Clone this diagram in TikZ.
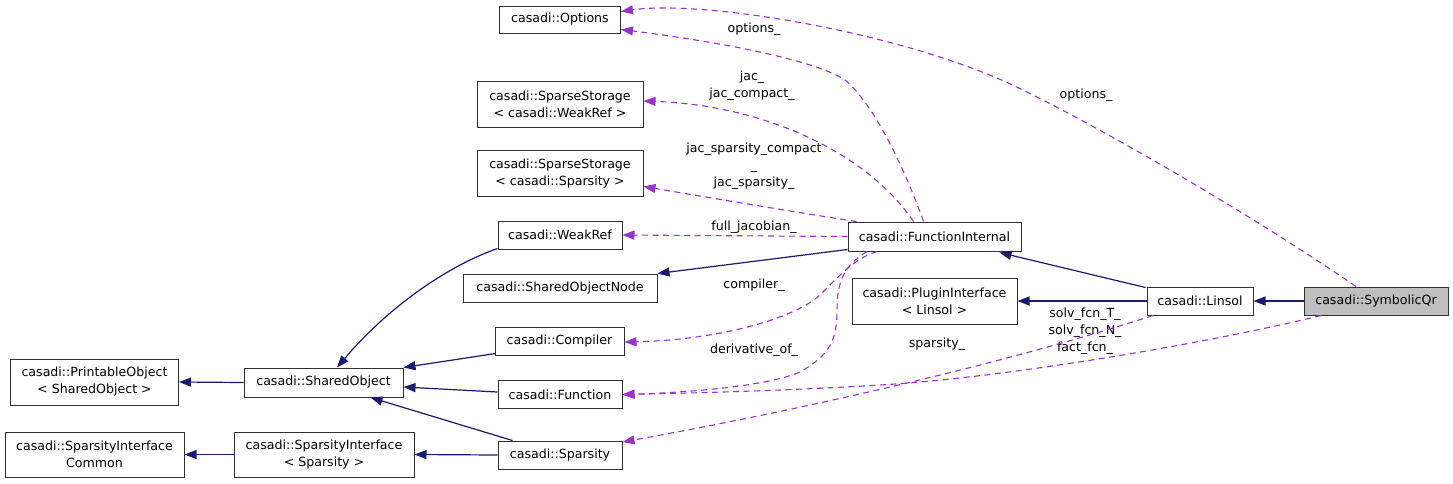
\documentclass[tikz,border=0pt]{standalone}
\usepackage{fontspec}
\setmainfont{DejaVu Sans}
\usetikzlibrary{arrows.meta,calc}
\definecolor{inh}{HTML}{191970}
\definecolor{use}{HTML}{9A32CD}
\definecolor{boxline}{HTML}{303030}
\begin{document}
\begin{tikzpicture}[x=1pt,y=-1pt,
  cls/.style={draw=boxline,line width=1pt,fill=white,inner sep=0pt,align=center,font=\fontsize{12.6}{17}\selectfont},
  lbl/.style={inner sep=0pt,align=center,font=\fontsize{12.6}{17}\selectfont},
  inhe/.style={draw=inh,line width=1.2pt,-{Triangle[length=12pt,width=9pt]}},
  usee/.style={draw=use,line width=1.1pt,dash pattern=on 6pt off 4.5pt,-{Triangle[length=12pt,width=9pt]}}]
\useasboundingbox (0,0) rectangle (1453,483);
% nodes
\node[cls,minimum width=121pt,minimum height=27pt] (opt) at (560,19.5) {casadi::Options};
\node[cls,minimum width=166pt,minimum height=46pt] (sswr) at (560,104) {casadi::SparseStorage\\ < casadi::WeakRef >};
\node[cls,minimum width=166pt,minimum height=46pt] (sssp) at (560,173.5) {casadi::SparseStorage\\ < casadi::Sparsity >};
\node[cls,minimum width=124pt,minimum height=28pt] (wr) at (560,235) {casadi::WeakRef};
\node[cls,minimum width=194pt,minimum height=28pt] (son) at (560,288) {casadi::SharedObjectNode};
\node[cls,minimum width=129pt,minimum height=28pt] (comp) at (559.5,341) {casadi::Compiler};
\node[cls,minimum width=124pt,minimum height=28pt] (func) at (560,394.5) {casadi::Function};
\node[cls,minimum width=124pt,minimum height=28pt] (spar) at (560,455) {casadi::Sparsity};
\node[cls,minimum width=173pt,minimum height=29pt] (fi) at (934.5,236.5) {casadi::FunctionInternal};
\node[cls,minimum width=165pt,minimum height=46pt] (pi) at (934.5,301.5) {casadi::PluginInterface\\ < Linsol >};
\node[cls,minimum width=106pt,minimum height=28pt] (lin) at (1200,301) {casadi::Linsol};
\node[cls,fill={rgb,255:red,191;green,191;blue,191},minimum width=144pt,minimum height=28pt] (sq) at (1376,301) {casadi::SymbolicQr};
\node[cls,minimum width=159pt,minimum height=29pt] (so) at (323.5,382.5) {casadi::SharedObject};
\node[cls,minimum width=168pt,minimum height=46pt] (po) at (94.5,382) {casadi::PrintableObject\\ < SharedObject >};
\node[cls,minimum width=179pt,minimum height=45pt] (sic) at (94.5,454.5) {casadi::SparsityInterface\\ Common};
\node[cls,minimum width=180pt,minimum height=45pt] (sis) at (324,454.5) {casadi::SparsityInterface\\ < Sparsity >};
% labels
\node[lbl] (l1) at (1086,95) {options\_};
\node[lbl] (l2) at (754,29) {options\_};
\node[lbl] (l3) at (752,86) {jac\_\\jac\_compact\_};
\node[lbl] (l4) at (754,166) {jac\_sparsity\_compact\\\_\\jac\_sparsity\_};
\node[lbl] (l5) at (754,227) {full\_jacobian\_};
\node[lbl] (l6) at (754,285) {compiler\_};
\node[lbl] (l7) at (754,350) {derivative\_of\_};
\node[lbl] (l8) at (1085,331) {solv\_fcn\_T\_\\solv\_fcn\_N\_\\fact\_fcn\_};
\node[lbl] (l9) at (937,344) {sparsity\_};
% inheritance edges
\draw[inhe] (sq.west) -- (lin.east);
\draw[inhe] ($(lin.north west)+(-1,1)$) -- ($(fi.south)+(65,1)$);
\draw[inhe] (lin.west) -- ($(pi.east)+(0,-0.5)$);
\draw[inhe] ($(fi.south west)+(0,-2)$) -- ($(son.north east)+(0,0)$);
\draw[inhe] ($(wr.south west)+(0,-1)$) .. controls (450,265) and (390,305) .. ($(so.north)+(13.5,0)$);
\draw[inhe] ($(comp.south west)+(1,-2)$) -- (so.north east);
\draw[inhe] ($(func.west)+(0,-2.5)$) -- ($(so.east)+(0,4.5)$);
\draw[inhe] ($(spar.north west)+(15,0)$) -- ($(so.south)+(47,0)$);
\draw[inhe] (so.west) -- (po.east);
\draw[inhe] (spar.west) -- (sis.east);
\draw[inhe] (sis.west) -- (sic.east);
% usage edges
\draw[usee] ($(sq.north)+(-20,0)$) .. controls (1240,207) and (1080,116) .. (1006,82)
   .. controls (890,30) and (700,0) .. ($(opt.east)+(0,-8)$);
\draw[usee] ($(fi.north)+(-11,0)$) .. controls (905,170) and (875,105) .. (845,80)
   .. controls (815,60) and (720,42) .. ($(opt.east)+(0,10)$);
\draw[usee] ($(fi.north)+(-21,0)$) .. controls (865,150) and (760,105) .. ($(sswr.east)+(0,-3)$);
\draw[usee] ($(fi.north west)+(9,0)$) .. controls (800,213) and (700,196) .. ($(sssp.east)+(0,13)$);
\draw[usee] (fi.west) -- (wr.east);
\draw[usee] ($(fi.south)+(-57.5,0)$) .. controls (855,258) and (840,275) .. (820,295)
   .. controls (795,318) and (720,340) .. ($(comp.east)+(0,1)$);
\draw[usee] ($(fi.south)+(-67.5,0)$) .. controls (845,265) and (837,280) .. (837,310)
   .. controls (837,340) and (830,355) .. (800,372)
   .. controls (770,385) and (700,392) .. (func.east);
\draw[usee] ($(sq.south)+(-55,0)$) .. controls (1200,345) and (1000,378) .. (880,385)
   .. controls (800,390) and (700,393) .. (func.east);
\draw[usee] ($(lin.south)+(-47,0)$) .. controls (1000,365) and (800,410) .. ($(spar.east)+(0,-13)$);
\end{tikzpicture}
\end{document}
